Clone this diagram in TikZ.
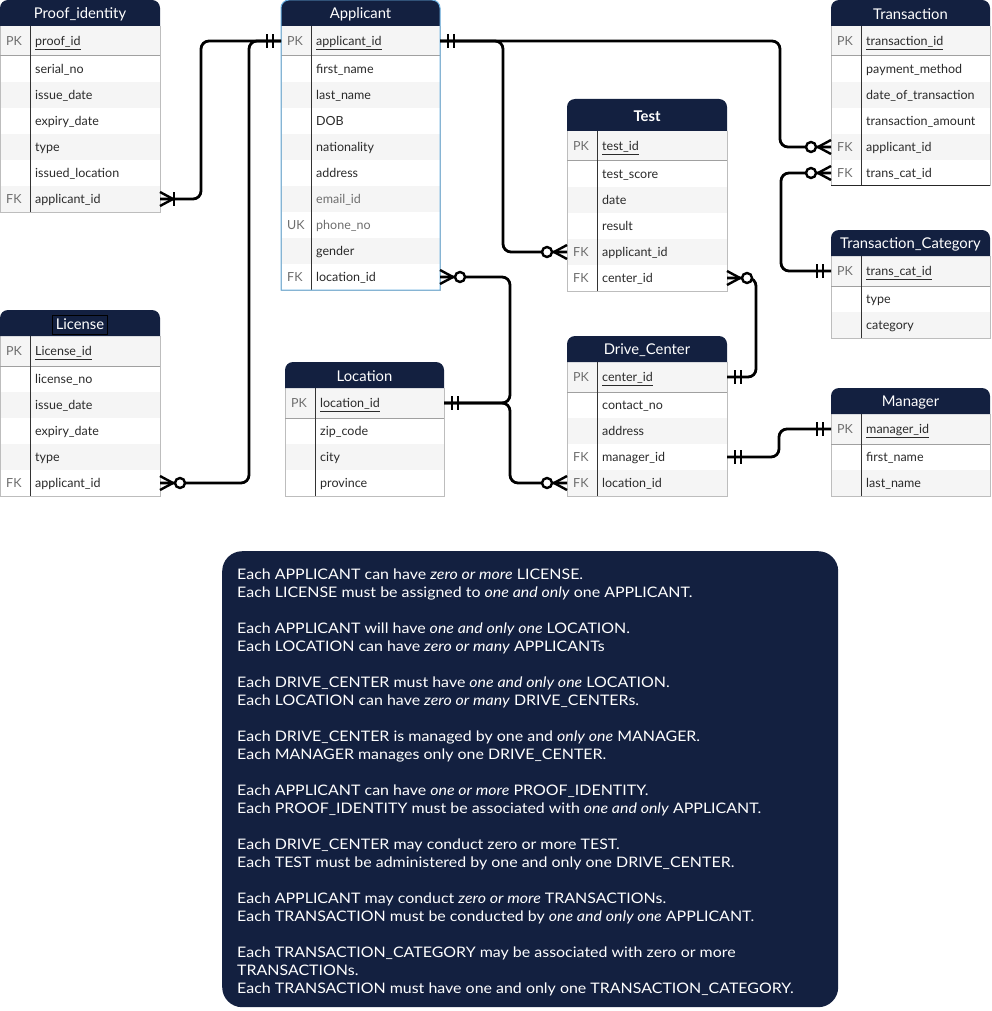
\documentclass[tikz,border=0pt]{standalone}
\usepackage{fontspec}
\setmainfont{Lato}
\newfontfamily\boxfont{Lato}[FakeStretch=1.1]
\usetikzlibrary{calc}
\definecolor{navy}{HTML}{132040}
\definecolor{rowg}{HTML}{F5F5F5}
\definecolor{roww}{HTML}{FFFFFF}
\definecolor{sepgray}{HTML}{A0A0A0}
\definecolor{keygray}{HTML}{6E6E6E}
\definecolor{fldc}{HTML}{2A2A2A}
\definecolor{appblue}{HTML}{6AB0E0}
\tikzset{
 rowbox/.style={draw=none, inner sep=0pt, outer sep=0pt},
 keytxt/.style={font=\fontsize{12.5}{14}\selectfont, text=keygray, inner sep=0pt, text height=9pt, text depth=2.5pt},
 fldtxt/.style={font=\fontsize{12.5}{14}\selectfont, text=fldc, inner sep=0pt, text height=9pt, text depth=2.5pt},
 titletxt/.style={font=\fontsize{14.8}{16}\selectfont, text=white, inner sep=0pt},
 sepline/.style={draw=sepgray, line width=1pt},
 keyline/.style={draw=black!80, line width=1pt},
 frameline/.style={draw=sepgray!70, line width=1pt},
 conn/.style={draw=black, line width=2.8pt, rounded corners=8pt},
 mk/.style={draw=black, line width=2.4pt},
 boxtxt/.style={text=white, align=left, inner sep=0pt, font=\boxfont\fontsize{14.5}{18}\selectfont},
 mand/.pic={\draw[mk] (8,-7) -- (8,7) (14,-7) -- (14,7);},
 zmany/.pic={\draw[mk] (0,-7) -- (13,0) -- (0,7); \draw[mk, fill=white] (20,0) circle (5pt);},
 omany/.pic={\draw[mk] (0,-7) -- (13,0) -- (0,7); \draw[mk] (14,-7) -- (14,7);},
}
% #1 prefix, #2 x, #3 ytop, #4 width, #5 header height, #6 title, #7 number of rows, #8 rows
\newcommand{\ertable}[8]{%
 \pgfmathsetmacro{\tbot}{#3+#5+30+(#7-1)*26}%
 \foreach \kk/\ff/\rc [count=\i] in {#8} {%
   \pgfmathsetmacro{\rtop}{#3+#5+(\i>1)*(30+(\i-2)*26)}%
   \pgfmathsetmacro{\rhgt}{(\i==1)*30+(\i>1)*26}%
   \node[rowbox, fill=row\rc, minimum width=#4pt, minimum height=\rhgt pt, anchor=north west] (#1-r\i) at (#2,\rtop) {};
   \node[keytxt, anchor=west] (#1-k\i) at ([xshift=6pt,yshift=-1.3pt]#1-r\i.west) {\kk};
   \node[fldtxt, anchor=west] (#1-f\i) at ([xshift=35pt,yshift=-1.3pt]#1-r\i.west) {\ff};
 }
 \draw[frameline] (#2,#3+#5) -- (#2,\tbot) -- (#2+#4,\tbot) -- (#2+#4,#3+#5);
 \draw[sepline] (#1-r1.south west) -- (#1-r1.south east);
 \draw[keyline] (#2+30,#3+#5) -- (#2+30,\tbot);
 \fill[navy] (#2,#3+#5) [rounded corners=8pt] -- (#2,#3) -- (#2+#4,#3) [sharp corners] -- (#2+#4,#3+#5) -- cycle;
 \node[titletxt] (#1) at (#2+#4/2,#3+#5/2+1.5) {#6};
}
\begin{document}
\begin{tikzpicture}[x=1pt,y=-1pt]
\useasboundingbox (0,0) rectangle (991,1011);
\fill[white] (0,0) rectangle (991,1011);

\ertable{pi}{0}{0}{160}{26}{Proof\_identity}{7}{PK/\underline{proof\_id}/g, /serial\_no/w, /issue\_date/g, /expiry\_date/w, /type/g, /issued\_location/w, FK/applicant\_id/g}
\ertable{ap}{281}{0}{159}{26}{Applicant}{10}{PK/\underline{applicant\_id}/g, /first\_name/w, /last\_name/g, /DOB/w, /nationality/g, /address/w, /{\color{keygray}email\_id}/g, UK/{\color{keygray}phone\_no}/w, /gender/g, FK/location\_id/w}
\draw[appblue, line width=1pt] (281,290) [rounded corners=8pt] -- (281,0) -- (440,0) [sharp corners] -- (440,290) -- cycle;
\ertable{tr}{831}{0}{159}{26}{Transaction}{6}{PK/\underline{transaction\_id}/g, /payment\_method/w, /date\_of\_transaction/g, /transaction\_amount/w, FK/applicant\_id/g, FK/trans\_cat\_id/w}
\draw[black!85, line width=1pt] (tr-r6.south west) -- (tr-r6.south east);
\ertable{te}{567}{99}{160}{32}{\textbf{Test}}{6}{PK/\underline{test\_id}/g, /test\_score/w, /date/g, /result/w, FK/applicant\_id/g, FK/center\_id/w}
\ertable{tc}{831}{230}{159}{26}{Transaction\_Category}{3}{PK/\underline{trans\_cat\_id}/g, /type/w, /category/g}
\ertable{li}{0}{310}{160}{26}{License}{6}{PK/\underline{License\_id}/g, /license\_no/w, /issue\_date/g, /expiry\_date/w, /type/g, FK/applicant\_id/w}
\draw[black, line width=0.8pt] ($(li.west)+(-3,-9.5)$) rectangle ($(li.east)+(3,9.5)$);
\ertable{lo}{285}{362}{159}{26}{Location}{4}{PK/\underline{location\_id}/g, /zip\_code/w, /city/g, /province/w}
\ertable{dc}{567}{336}{160}{26}{Drive\_Center}{5}{PK/\underline{center\_id}/g, /contact\_no/w, /address/g, FK/manager\_id/w, FK/location\_id/g}
\ertable{mg}{831}{388}{159}{26}{Manager}{3}{PK/\underline{manager\_id}/g, /first\_name/w, /last\_name/g}

% connectors
\draw[conn] (pi-r7.east) -- ([xshift=41pt]pi-r7.east) |- (ap-r1.west);
\draw[conn] (li-r6.east) -- ([xshift=89pt]li-r6.east) |- (ap-r1.west);
\draw[conn] (ap-r1.east) -| ([xshift=-51pt]tr-r5.west) -- (tr-r5.west);
\draw[conn] (ap-r1.east) -| ([xshift=-64pt]te-r5.west) -- (te-r5.west);
\draw[conn] (ap-r10.east) -| ([xshift=66pt]lo-r1.east) -- (lo-r1.east);
\draw[conn] (lo-r1.east) -| ([xshift=-57pt]dc-r5.west) -- (dc-r5.west);
\draw[conn] (te-r6.east) -- ([xshift=29pt]te-r6.east) |- (dc-r1.east);
\draw[conn] (tr-r6.west) -- ([xshift=-50pt]tr-r6.west) |- (tc-r1.west);
\draw[conn] (dc-r4.east) -- ([xshift=52pt]dc-r4.east) |- (mg-r1.west);

% end markers
\pic at (pi-r7.east) {omany};
\pic[rotate=180] at (ap-r1.west) {mand};
\pic at (li-r6.east) {zmany};
\pic at (ap-r1.east) {mand};
\pic[rotate=180] at (tr-r5.west) {zmany};
\pic[rotate=180] at (te-r5.west) {zmany};
\pic at (ap-r10.east) {zmany};
\pic at (lo-r1.east) {mand};
\pic[rotate=180] at (dc-r5.west) {zmany};
\pic at (te-r6.east) {zmany};
\pic at (dc-r1.east) {mand};
\pic[rotate=180] at (tr-r6.west) {zmany};
\pic[rotate=180] at (tc-r1.west) {mand};
\pic at (dc-r4.east) {mand};
\pic[rotate=180] at (mg-r1.west) {mand};

% rules box
\node[fill=navy, rounded corners=20pt, minimum width=616pt, minimum height=456pt, inner sep=0pt, anchor=north west] (notebox) at (222,551) {};
\node[boxtxt, anchor=north west] (rules) at (237,568.5) {%
Each APPLICANT can have \textit{zero or more} LICENSE.\\
Each LICENSE must be assigned to \textit{one and only} one APPLICANT.\\[18pt]
Each APPLICANT will have \textit{one and only one} LOCATION.\\
Each LOCATION can have \textit{zero or many} APPLICANTs\\[18pt]
Each DRIVE\_CENTER must have \textit{one and only one} LOCATION.\\
Each LOCATION can have \textit{zero or many} DRIVE\_CENTERs.\\[18pt]
Each DRIVE\_CENTER is managed by one and \textit{only one} MANAGER.\\
Each MANAGER manages only one DRIVE\_CENTER.\\[18pt]
Each APPLICANT can have \textit{one or more} PROOF\_IDENTITY.\\
Each PROOF\_IDENTITY must be associated with \textit{one and only} APPLICANT.\\[18pt]
Each DRIVE\_CENTER may conduct zero or more TEST.\\
Each TEST must be administered by one and only one DRIVE\_CENTER.\\[18pt]
Each APPLICANT may conduct \textit{zero or more} TRANSACTIONs.\\
Each TRANSACTION must be conducted by \textit{one and only one} APPLICANT.\\[18pt]
Each TRANSACTION\_CATEGORY may be associated with zero or more\\
TRANSACTIONs.\\
Each TRANSACTION must have one and only one TRANSACTION\_CATEGORY.};
\end{tikzpicture}
\end{document}
